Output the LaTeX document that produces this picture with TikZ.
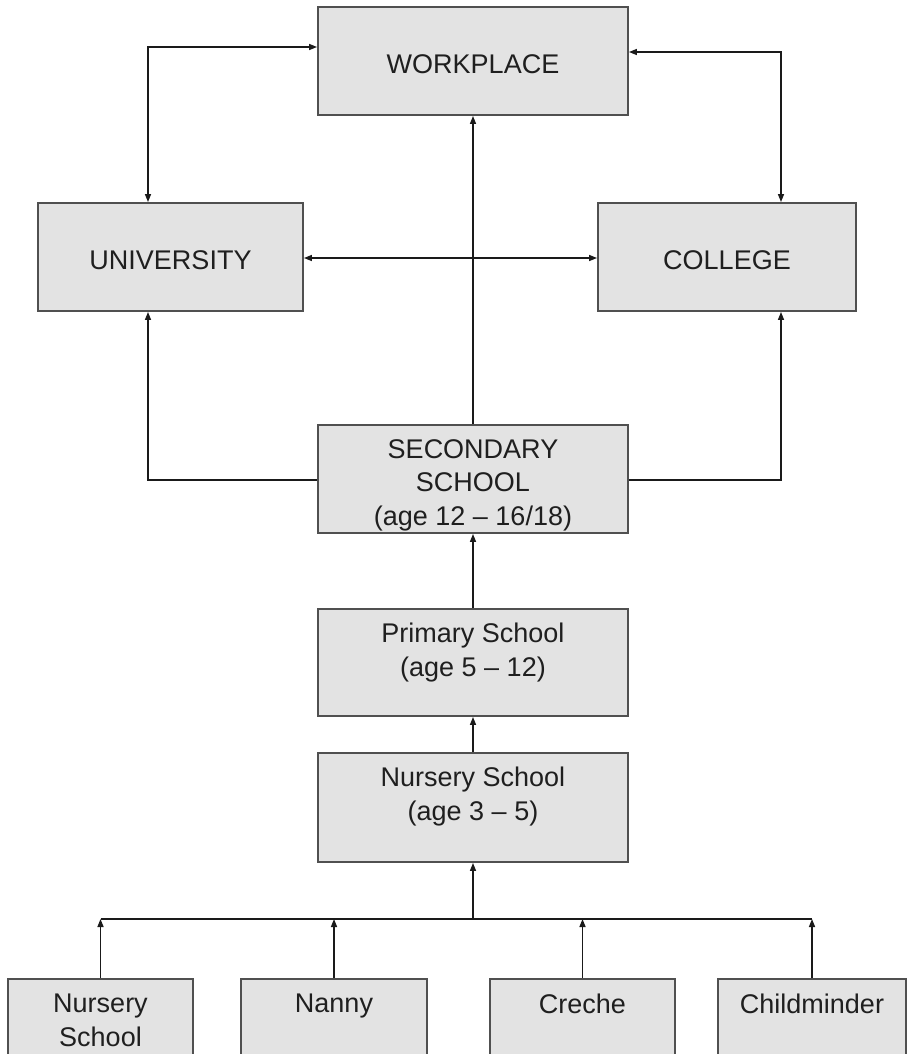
\documentclass[tikz,border=0pt]{standalone}
\usepackage{fontspec}
\setmainfont{Liberation Sans}
\usetikzlibrary{arrows.meta,fit,calc}
\definecolor{boxfill}{HTML}{E3E3E3}
\definecolor{boxline}{HTML}{505050}
\definecolor{linecol}{HTML}{1A1A1A}
\begin{document}
\begin{tikzpicture}[x=0.75pt,y=-0.75pt,
  >={Triangle[length=6pt,width=4.5pt]},
  box/.style={draw=boxline, fill=boxfill, line width=1.4pt, inner sep=0pt},
  lbl/.style={font=\fontsize{20.25pt}{25.3pt}\selectfont, align=center, inner sep=0pt, text=black!88},
  conn/.style={draw=linecol, line width=1.1pt}]
\useasboundingbox (0,0) rectangle (912,1054);
\clip (0,0) rectangle (912,1054);
\fill[white] (0,0) rectangle (912,1054);

% boxes
\node[box, fit={(318,7) (628,115)}] (wp) {};
\node[box, fit={(38,203) (303,311)}] (uni) {};
\node[box, fit={(598,203) (856,311)}] (col) {};
\node[box, fit={(318,425) (628,533)}] (sec) {};
\node[box, fit={(318,609) (628,716)}] (pri) {};
\node[box, fit={(318,753) (628,862)}] (nur) {};
\node[box, fit={(8,979) (193,1130)}] (b1) {};
\node[box, fit={(241,979) (427,1130)}] (b2) {};
\node[box, fit={(490,979) (675,1130)}] (b3) {};
\node[box, fit={(718,979) (906,1130)}] (b4) {};

% labels
\node[lbl] (wpt) at ($(wp.center)+(0,3)$) {WORKPLACE};
\node[lbl] (unit) at ($(uni.center)+(0,3)$) {UNIVERSITY};
\node[lbl] (colt) at ($(col.center)+(0,3)$) {COLLEGE};
\node[lbl, anchor=north] (sect) at ($(sec.north)+(0,15)$) {SECONDARY\\SCHOOL\\(age 12 – 16/18)};
\node[lbl, anchor=north] (prit) at ($(pri.north)+(0,15)$) {Primary School\\(age 5 – 12)};
\node[lbl, anchor=north] (nurt) at ($(nur.north)+(0,15)$) {Nursery School\\(age 3 – 5)};
\node[lbl, anchor=north] (b1t) at ($(b1.north)+(0,16)$) {Nursery\\School};
\node[lbl, anchor=north] (b2t) at ($(b2.north)+(0,16)$) {Nanny};
\node[lbl, anchor=north] (b3t) at ($(b3.north)+(0,16)$) {Creche};
\node[lbl, anchor=north] (b4t) at ($(b4.north)+(0,16)$) {Childminder};

% helper coordinates
\coordinate (xL) at (148,0);
\coordinate (xR) at (781,0);
\coordinate (yWL) at (0,47);
\coordinate (yWR) at (0,52);
\coordinate (yUC) at (0,258);
\coordinate (yS) at (0,480);
\coordinate (yBar) at (0,919);

% connectors
\draw[conn,<->] (xL |- uni.north) |- (wp.west |- yWL);
\draw[conn,<->] (xR |- col.north) |- (wp.east |- yWR);
\draw[conn,<->] (uni.east |- yUC) -- (col.west |- yUC);
\draw[conn,->] (sec.north) -- (wp.south);
\draw[conn,->] (sec.west |- yS) -| (xL |- uni.south);
\draw[conn,->] (sec.east |- yS) -| (xR |- col.south);
\draw[conn,->] (pri.north) -- (sec.south);
\draw[conn,->] (nur.north) -- (pri.south);
\draw[conn] (b1.north |- yBar) -- (b4.north |- yBar);
\draw[conn,->] (nur.south |- yBar) -- (nur.south);
\foreach \b in {b1,b2,b3,b4} \draw[conn,->] (\b.north) -- (\b.north |- yBar);
\end{tikzpicture}
\end{document}
